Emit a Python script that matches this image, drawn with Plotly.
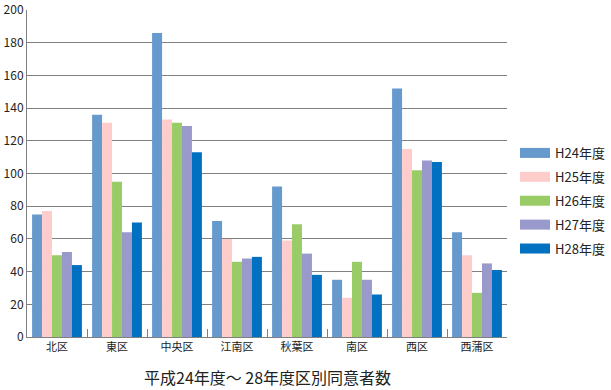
import plotly.graph_objects as go

categories = ["北区", "東区", "中央区", "江南区", "秋葉区", "南区", "西区", "西蒲区"]
series_names = ["H24年度", "H25年度", "H26年度", "H27年度", "H28年度"]
h24 = [75, 136, 186, 71, 92, 35, 152, 64]
h25 = [77, 131, 133, 60, 59, 24, 115, 50]
h26 = [50, 95, 131, 46, 69, 46, 102, 27]
h27 = [52, 64, 129, 48, 51, 35, 108, 45]
h28 = [44, 70, 113, 49, 38, 26, 107, 41]
y_ticks = [0, 20, 40, 60, 80, 100, 120, 140, 160, 180, 200]
title_text = "平成24年度～ 28年度区別同意者数"

colors = ["#6699CC", "#FFCCCC", "#99CC66", "#9999CC", "#0070C0"]
values = [h24, h25, h26, h27, h28]

font_family = "Noto Sans CJK JP, Noto Sans, sans-serif"

fig = go.Figure()
for name, vals, col in zip(series_names, values, colors):
    fig.add_trace(go.Bar(x=categories, y=vals, name=name, marker_color=col,
                         marker_line_width=0, showlegend=False))
for i, (name, col) in enumerate(zip(series_names, colors)):
    fig.add_trace(go.Scatter(x=[None], y=[None], mode="lines", name=name,
                             line=dict(color=col, width=10), legendgroup=f"g{i}",
                             showlegend=True, hoverinfo="skip"))

fig.update_layout(
    width=611, height=390,
    margin=dict(l=27, r=104, t=10, b=53, autoexpand=False),
    paper_bgcolor="white", plot_bgcolor="white",
    barmode="group", bargap=0.17, bargroupgap=0,
    font=dict(family=font_family, size=12, color="#222222"),
    legend=dict(x=1.0167, xanchor="left", y=0.416, yanchor="middle",
                font=dict(size=13, color="#222222"), tracegroupgap=4,
                itemwidth=30, bgcolor="rgba(0,0,0,0)"),
    annotations=[dict(text=title_text, x=0.5, y=-0.122, xref="paper", yref="paper",
                      xanchor="center", yanchor="middle", showarrow=False,
                      font=dict(size=16, color="#222222"))],
)
fig.update_yaxes(range=[0, 200], tickvals=y_ticks, showgrid=True, gridcolor="#808080",
                 gridwidth=1, showline=True, linecolor="#808080", linewidth=1,
                 ticks="", zeroline=False, tickfont=dict(size=12), automargin=False)
fig.update_xaxes(showline=True, linecolor="#808080", linewidth=1, ticks="inside",
                 tickson="boundaries", ticklen=8, tickcolor="#808080",
                 tickfont=dict(size=11), automargin=False)

fig.write_html("out.html", config={"displayModeBar": False},
               post_script="document.body.style.margin='0';document.body.style.overflow='hidden';")
